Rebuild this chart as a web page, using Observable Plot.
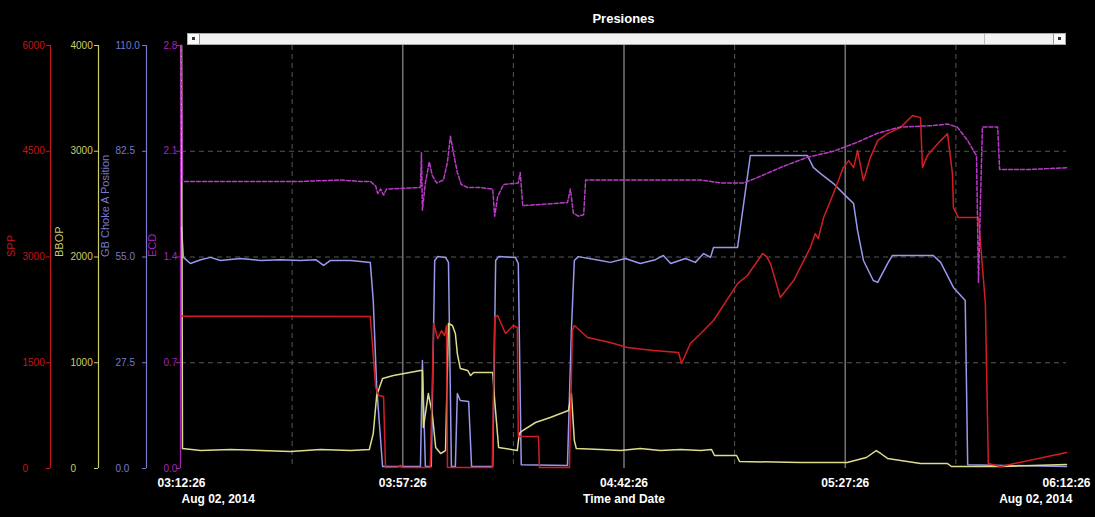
<!DOCTYPE html>
<html>
<head>
<meta charset="utf-8">
<script src="https://cdn.jsdelivr.net/npm/d3@7"></script>
<script src="https://cdn.jsdelivr.net/npm/@observablehq/plot@0.6"></script>
<style>
  html, body { margin: 0; padding: 0; background: #000; }
  #chart { position: relative; width: 1095px; height: 517px; background: #000; overflow: hidden; font-family: "Liberation Sans", Arial, sans-serif; }
  #title { position: absolute; left: 181px; width: 885px; top: 11px; text-align: center; color: #fff; font-weight: bold; font-size: 13px; }
  #scroll { position: absolute; left: 187px; top: 33px; width: 877px; height: 10px; background: #f2f2f2; border: 1px solid #aaa; }
  .btn { position: absolute; top: 0; width: 11px; height: 10px; border-right: 1px solid #999; background: #fafafa; }
  .dot { position: absolute; left: 4px; top: 3px; width: 3px; height: 3px; background: #333; }
  #thumbEnd { position: absolute; left: 796px; top: 0; width: 1px; height: 10px; background: #bbb; }
  .layer { position: absolute; left: 0; top: 30px; }
</style>
</head>
<body>
<div id="chart">
  <div id="title">Presiones</div>
  <div id="scroll">
    <div class="btn" style="left:0"><div class="dot"></div></div>
    <div id="thumbEnd"></div>
    <div class="btn" style="right:0;border-right:none;border-left:1px solid #999"><div class="dot"></div></div>
  </div>
</div>
<script>
// ---- data: [minutes after 03:12:26, value] ----
const startTime = "2014-08-02T03:12:26Z";
const xTickMinutes = [0, 45, 90, 135, 180];
const gridMajorMinutes = [45, 90, 135];
const gridMinorMinutes = [22.5, 67.5, 112.5, 157.5];
const dateLabel = "Aug 02, 2014";
const xTitle = "Time and Date";

const sppTicks = [0, 1500, 3000, 4500, 6000];
const bbopTicks = [0, 1000, 2000, 3000, 4000];
const chokeTicks = [0, 27.5, 55, 82.5, 110];
const ecdTicks = [0, 0.7, 1.4, 2.1, 2.8];
const ecdGrid = [0.7, 1.4, 2.1];

const spp = [
  [0, 2160], [38.4, 2155], [39.5, 1149], [40.1, 1035], [41.1, 1021], [41.5, 14], [44, 20], [44.5, 45], [45, 15],
  [50.6, 15], [51.3, 2056], [52.1, 1843], [52.9, 1957], [53.5, 1886], [53.9, 2028], [54.1, 15],
  [63.2, 15], [63.7, 2141], [64.3, 2170], [65.9, 1914], [67.5, 2028], [68.3, 2000], [68.5, 454],
  [72.6, 454], [72.8, 15], [78.9, 15], [79.5, 1957], [79.9, 2028], [82.6, 1858], [87.2, 1787],
  [90.7, 1716], [96.0, 1673], [101.1, 1645], [101.7, 1489], [103.5, 1773], [105.6, 1914],
  [108.2, 2099], [113.1, 2623], [115.1, 2737], [118.2, 3049], [119.0, 3006], [119.8, 2907],
  [121.8, 2425], [124.5, 2666], [127.9, 3134], [128.9, 3332], [129.5, 3261], [130.6, 3559],
  [132.6, 3900], [134.6, 4268], [135.7, 4367], [136.7, 4268], [137.5, 4509], [138.7, 4084],
  [140.1, 4410], [141.6, 4651], [143.6, 4750], [146.2, 4835], [148.7, 5006], [150.3, 4977],
  [150.7, 4268], [151.7, 4438], [154.4, 4651], [155.8, 4750], [156.8, 4183], [157.0, 3701],
  [158.0, 3559], [162.1, 3559], [163.5, 2340], [164.1, 71], [166.6, 28], [180, 227]
];

const bbop = [
  [0, 4000], [0.2, 189], [3.9, 170], [10.0, 180], [16.1, 170], [22.2, 161], [28.3, 180], [34.4, 170],
  [38.2, 180], [39.0, 331], [39.7, 690], [40.9, 851], [43.1, 879], [48.6, 927], [49.0, 927],
  [49.2, 388], [50.2, 709], [51.0, 520], [51.7, 199], [52.7, 142], [53.7, 170], [54.3, 1371],
  [55.1, 1352], [55.7, 1277], [56.1, 1087], [56.7, 946], [58.2, 927], [58.8, 879], [59.4, 908],
  [63.3, 908], [63.7, 643], [64.5, 199], [68.3, 170], [68.7, 331], [69.4, 359], [72.0, 435],
  [75.0, 482], [78.7, 548], [79.3, 709], [79.9, 265], [80.3, 189], [85.2, 180], [89.3, 170],
  [93.3, 189], [97.4, 170], [101.5, 180], [105.6, 170], [107.8, 180], [108.4, 123], [112.9, 123],
  [113.5, 66], [125.9, 57], [135.4, 57], [139.3, 104], [141.3, 170], [142.2, 142], [143.6, 95],
  [150.3, 47], [155.8, 47], [156.6, 19], [166.6, 19], [180, 38]
];

const choke = [
  [0, 62.7], [0.4, 54.9], [1.8, 53.3], [3.9, 54.3], [5.9, 54.9], [7.9, 54.1], [12.0, 54.6],
  [16.1, 54.1], [20.1, 54.3], [24.2, 54.1], [27.3, 54.3], [28.9, 52.8], [30.3, 54.1], [34.4, 54.1],
  [38.4, 53.6], [39.0, 43.7], [39.7, 21.1], [40.9, 0.5], [48.6, 0.5], [49.0, 28.1], [49.6, 0.5],
  [50.8, 0.5], [51.5, 54.1], [52.1, 55.1], [53.7, 54.9], [54.3, 53.6], [54.9, 0.5], [55.7, 0.5],
  [56.1, 19.5], [56.7, 17.7], [58.4, 17.4], [59.0, 0.5], [63.3, 0.5], [63.9, 54.1], [64.5, 55.1],
  [67.9, 54.9], [68.5, 53.3], [69.1, 1.0], [78.5, 0.8], [79.3, 35.9], [79.9, 54.1], [80.7, 55.1],
  [85.2, 54.1], [87.2, 53.6], [90.3, 54.6], [93.3, 53.3], [96.4, 54.3], [98.0, 55.4], [99.5, 53.3],
  [102.5, 54.6], [104.5, 53.6], [106.2, 55.9], [107.6, 54.9], [108.2, 57.5], [113.1, 57.5],
  [115.7, 81.4], [127.3, 81.4], [128.5, 78.3], [130.0, 76.7], [132.6, 74.1], [135.4, 70.5],
  [136.7, 68.9], [137.5, 61.9], [138.7, 54.1], [140.7, 48.9], [141.6, 48.4], [143.6, 53.3],
  [144.6, 55.4], [152.9, 55.4], [154.4, 53.6], [157.0, 47.1], [159.4, 43.7], [159.9, 1.0], [180, 0.5]
];

const ecd = [
  [0, 2.80], [0.2, 1.90], [14.0, 1.90], [24.2, 1.90], [32.3, 1.91], [36.4, 1.90], [38.4, 1.90],
  [39.5, 1.87], [39.9, 1.82], [40.5, 1.85], [41.1, 1.81], [41.7, 1.85], [48.6, 1.86], [48.8, 2.09],
  [49.0, 1.71], [49.6, 1.89], [50.4, 2.03], [51.0, 1.94], [51.9, 1.89], [53.3, 1.91], [54.1, 2.03],
  [54.7, 2.20], [55.3, 2.09], [56.1, 1.96], [56.9, 1.88], [58.2, 1.86], [60.8, 1.86], [63.3, 1.85],
  [63.7, 1.67], [64.3, 1.80], [65.5, 1.88], [68.5, 1.89], [68.9, 1.96], [69.4, 1.74], [74.0, 1.75],
  [78.5, 1.76], [79.1, 1.85], [79.7, 1.69], [80.7, 1.67], [81.8, 1.68], [82.2, 1.91], [89.3, 1.91],
  [97.4, 1.91], [105.6, 1.91], [109.6, 1.89], [114.3, 1.89], [116.7, 1.92], [122.4, 2.00],
  [127.3, 2.06], [132.6, 2.10], [137.5, 2.16], [141.6, 2.22], [146.2, 2.26], [152.9, 2.27],
  [155.8, 2.28], [157.8, 2.26], [159.9, 2.17], [161.7, 2.07], [162.1, 1.23], [162.5, 1.77],
  [162.9, 2.26], [166.0, 2.26], [166.4, 1.98], [172.7, 1.98], [180, 1.99]
];

// ---- styling ----
const C = {
  spp: "#d21e22", sppAxis: "#c4161c",
  bbop: "#dcdc8a", bbopAxis: "#cdcd66",
  choke: "#9898ee", chokeAxis: "#7878cc",
  ecd: "#b83cc6", ecdAxis: "#a824b8"
};
const t0 = new Date(startTime).getTime();
const at = m => new Date(t0 + m * 60000);
const W = 1095, H = 487;
const frame = {marginTop: 15, marginBottom: 49, marginLeft: 181, marginRight: 29};
const font = "'Liberation Sans', Arial, sans-serif";

function layer(yDomain, marks) {
  const svg = Plot.plot({
    width: W, height: H, ...frame,
    x: {type: "utc", domain: [at(0), at(180)], axis: null},
    y: {domain: yDomain, axis: null},
    style: {background: "transparent", color: "#fff", fontFamily: font, fontSize: "10px", overflow: "visible"},
    marks
  });
  svg.classList.add("layer");
  svg.style.position = "absolute";
  svg.style.left = "0px";
  svg.style.top = "30px";
  svg.style.maxWidth = "none";
  return svg;
}

function sideAxis(ticks, fmt, color, lineX, labelStart, title, titleX) {
  const dx = lineX - frame.marginLeft;
  const tickSize = 4;
  return [
    Plot.ruleX([at(0)], {dx, stroke: color, strokeWidth: 1.2}),
    Plot.axisY({ticks, tickFormat: fmt, dx, tickSize, tickPadding: lineX - tickSize - labelStart,
      textAnchor: "start", stroke: color, fill: color, fontSize: 10, label: null}),
    Plot.text([title], {text: d => d, frameAnchor: "left", dx: titleX - frame.marginLeft, rotate: -90,
      fill: color, fontSize: 11})
  ];
}

const fmtInt = d => String(d);
const fmt1 = d3.format(".1f");

const base = layer([0, 2.8], [
  Plot.ruleY(ecdGrid, {stroke: "#575757", strokeDasharray: "5,4"}),
  Plot.ruleX(gridMinorMinutes.map(at), {stroke: "#575757", strokeDasharray: "5,4"}),
  Plot.ruleX(gridMajorMinutes.map(at), {stroke: "#6f6f6f", strokeWidth: 1.6}),
  Plot.axisX({ticks: xTickMinutes.map(at), tickFormat: d3.utcFormat("%H:%M:%S"), tickSize: 0, tickPadding: 10,
    fill: "#fff", fontWeight: "bold", fontSize: 12, label: null}),
  Plot.text([at(0)], {x: d => d, text: () => dateLabel, frameAnchor: "bottom", dy: 34, textAnchor: "start",
    fill: "#fff", fontWeight: "bold", fontSize: 12}),
  Plot.text([at(180)], {x: d => d, text: () => dateLabel, frameAnchor: "bottom", dy: 34, dx: 6, textAnchor: "end",
    fill: "#fff", fontWeight: "bold", fontSize: 12}),
  Plot.text([xTitle], {text: d => d, frameAnchor: "bottom", dy: 34, fill: "#fff", fontWeight: "bold", fontSize: 12}),
  ...sideAxis(ecdTicks, fmt1, C.ecdAxis, 180, 163, "ECD", 152)
]);

const chokeLayer = layer([0, 110], [
  ...sideAxis(chokeTicks, fmt1, C.chokeAxis, 146, 115, "GB Choke A Position", 105),
  Plot.line(choke, {x: d => at(d[0]), y: d => d[1], stroke: C.choke, strokeWidth: 1.5})
]);

const bbopLayer = layer([0, 4000], [
  ...sideAxis(bbopTicks, fmtInt, C.bbopAxis, 98, 70, "BBOP", 59),
  Plot.line(bbop, {x: d => at(d[0]), y: d => d[1], stroke: C.bbop, strokeWidth: 1.5})
]);

const sppLayer = layer([0, 6000], [
  ...sideAxis(sppTicks, fmtInt, C.sppAxis, 50, 22, "SPP", 11),
  Plot.line(spp, {x: d => at(d[0]), y: d => d[1], stroke: C.spp, strokeWidth: 1.5})
]);

const ecdLayer = layer([0, 2.8], [
  Plot.line(ecd, {x: d => at(d[0]), y: d => d[1], stroke: C.ecd, strokeWidth: 1.5, strokeDasharray: "4,2"})
]);

const chart = document.getElementById("chart");
[base, chokeLayer, bbopLayer, sppLayer, ecdLayer].forEach(s => chart.appendChild(s));
</script>
</body>
</html>
